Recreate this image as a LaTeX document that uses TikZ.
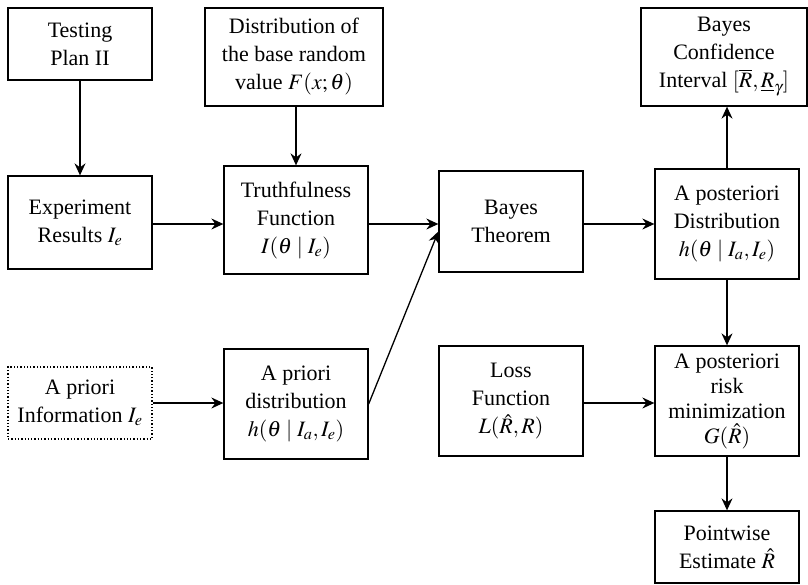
\documentclass[tikz,border=0pt]{standalone}
\usepackage{mathptmx}
\usepackage[no-math]{fontspec}
\setmainfont{Liberation Serif}
\usetikzlibrary{arrows.meta}
\tikzset{
  box/.style={draw, line width=1.3pt, minimum width=144pt, inner sep=1pt,
    align=center, font=\fontsize{22}{28}\selectfont},
  dotbox/.style={box, dotted},
  flow/.style={line width=1.3pt, -{Stealth[length=12pt,width=11pt,inset=4pt]}}
}
\begin{document}
\begin{tikzpicture}[x=1pt,y=-1pt]
\useasboundingbox (0,0) rectangle (808,584);
% top row
\node[box, minimum height=72pt] (test) at (80,44) {Testing\\Plan II};
\node[box, minimum width=178pt, minimum height=98pt] (dist) at (294,57)
  {Distribution of\\the base random\\value $F(x;\theta)$};
\node[box, minimum width=166pt, minimum height=98pt] (conf) at (724,57)
  {Bayes\\Confidence\\Interval $[\overline{R},\underline{R}_\gamma]$};
% middle row
\node[box, minimum height=93pt] (exp) at (80,222.5) {Experiment\\Results $I_e$};
\node[box, minimum height=108pt] (truth) at (296,220)
  {Truthfulness\\Function\\$I(\theta\mid I_e)$};
\node[box, minimum height=101pt] (bayes) at (511,221.5) {Bayes\\Theorem};
\node[box, minimum height=110pt] (post) at (727,224)
  {A posteriori\\Distribution\\$h(\theta\mid I_a,I_e)$};
% lower row
\node[dotbox, minimum height=72pt] (info) at (80,403) {A priori\\Information $I_e$};
\node[box, minimum height=110pt] (prior) at (296,404)
  {A priori\\distribution\\$h(\theta\mid I_a,I_e)$};
\node[box, minimum height=110pt] (loss) at (511,401)
  {Loss\\Function\\$L(\hat{R},R)$};
\node[box, minimum height=110pt, inner sep=0pt, font=\fontsize{22}{25}\selectfont] (risk) at (727,401)
  {A posteriori\\risk\\minimization\\$G(\hat{R})$};
\node[box, minimum height=72pt] (point) at (727,547) {Pointwise\\Estimate $\hat{R}$};
% connectors
\draw[flow] (test) -- (exp);
\draw[flow] (dist.south -| truth.north) -- (truth.north);
\draw[flow] (exp.east |- 0,224) -- (truth.west |- 0,224);
\draw[flow] (truth.east |- 0,224) -- (bayes.west |- 0,224);
\draw[flow] (prior.east) -- ([yshift=-10pt]bayes.west);
\draw[flow] (bayes.east |- 0,224) -- (post.west |- 0,224);
\draw[flow] (post.north) -- (post.north |- conf.south);
\draw[flow] (post) -- (risk);
\draw[flow] (info.east |- 0,403) -- (prior.west |- 0,403);
\draw[flow] (loss.east |- 0,403) -- (risk.west |- 0,403);
\draw[flow] (risk) -- (point);
\end{tikzpicture}
\end{document}
